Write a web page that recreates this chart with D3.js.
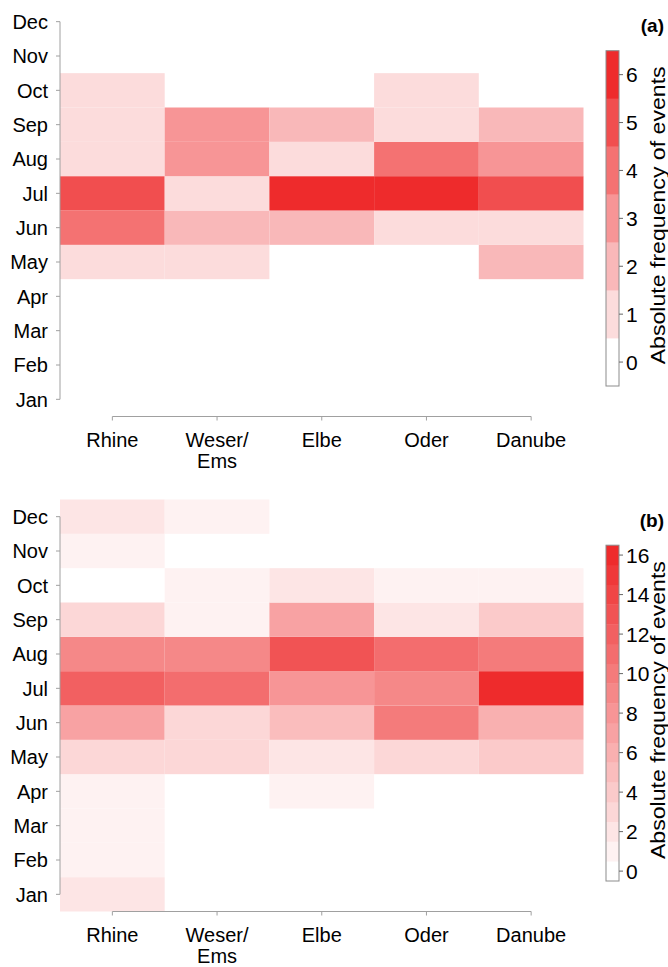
<!DOCTYPE html>
<html>
<head>
<meta charset="utf-8">
<script src="https://cdn.jsdelivr.net/npm/d3@7"></script>
<style>
  html, body { margin: 0; padding: 0; background: #fff; }
  svg { display: block; font-family: "Liberation Sans", Arial, Helvetica, sans-serif; }
</style>
</head>
<body>
<svg id="chart" width="668" height="967"></svg>
<script>
// Months (bottom to top on the y axis) and river basins
const months = ["Jan", "Feb", "Mar", "Apr", "May", "Jun", "Jul", "Aug", "Sep", "Oct", "Nov", "Dec"];
const rivers = ["Rhine", "Weser/Ems", "Elbe", "Oder", "Danube"];
const riverLabels = [["Rhine"], ["Weser/", "Ems"], ["Elbe"], ["Oder"], ["Danube"]];

// (a) event counts per month, Jan..Dec, one array per basin
const countsA_Rhine  = [0, 0, 0, 0, 1, 4, 5, 1, 1, 1, 0, 0];
const countsA_Weser  = [0, 0, 0, 0, 1, 2, 1, 3, 3, 0, 0, 0];
const countsA_Elbe   = [0, 0, 0, 0, 0, 2, 6, 1, 2, 0, 0, 0];
const countsA_Oder   = [0, 0, 0, 0, 0, 1, 6, 4, 1, 1, 0, 0];
const countsA_Danube = [0, 0, 0, 0, 2, 1, 5, 3, 2, 0, 0, 0];

// (b) event counts per month, Jan..Dec, one array per basin
const countsB_Rhine  = [2, 1, 1, 1, 3, 7, 12, 9, 3, 0, 1, 2];
const countsB_Weser  = [0, 0, 0, 0, 3, 3, 11, 9, 1, 1, 0, 1];
const countsB_Elbe   = [0, 0, 0, 1, 2, 5, 8, 13, 7, 2, 0, 0];
const countsB_Oder   = [0, 0, 0, 0, 3, 10, 9, 11, 2, 1, 0, 0];
const countsB_Danube = [0, 0, 0, 0, 4, 6, 16, 10, 4, 1, 0, 0];

// Colour-bar ranges and tick labels
const maxA = 6, maxB = 16;
const legendTicksA = [0, 1, 2, 3, 4, 5, 6];
const legendTicksB = [0, 2, 4, 6, 8, 10, 12, 14, 16];

const panelA = [countsA_Rhine, countsA_Weser, countsA_Elbe, countsA_Oder, countsA_Danube];
const panelB = [countsB_Rhine, countsB_Weser, countsB_Elbe, countsB_Oder, countsB_Danube];

const svg = d3.select("#chart");
const RED = "#ee2b2c";
const AXIS = "#a0a0a0";
const INK = "#000";

function drawPanel(offsetY, counts, maxVal, legendTicks, tag) {
  const g = svg.append("g").attr("transform", `translate(0,${offsetY})`);
  const top = 4.5, bottom = 416.5;

  const x = d3.scaleBand().domain(rivers).range([60, 583.5]).padding(0);
  const y = d3.scaleBand().domain(months).range([bottom, top]).padding(0);
  const color = d3.scaleLinear().domain([0, maxVal]).range(["#ffffff", RED]).interpolate(d3.interpolateRgb);

  // Cells
  const cells = [];
  rivers.forEach((r, i) => months.forEach((m, j) => cells.push({ r, m, v: counts[i][j] })));
  g.append("g").selectAll("rect").data(cells.filter(d => d.v > 0)).join("rect")
    .attr("x", d => x(d.r))
    .attr("y", d => y(d.m))
    .attr("width", x.bandwidth())
    .attr("height", y.bandwidth())
    .attr("fill", d => color(d.v));

  // Y axis: line between first and last tick, ticks pointing left
  const yc = m => y(m) + y.bandwidth() / 2;
  const ya = g.append("g");
  ya.append("line").attr("x1", 60).attr("x2", 60)
    .attr("y1", yc("Dec")).attr("y2", yc("Jan")).attr("stroke", AXIS);
  ya.selectAll("line.tick").data(months).join("line").attr("class", "tick")
    .attr("x1", 56).attr("x2", 60).attr("y1", yc).attr("y2", yc).attr("stroke", AXIS);
  ya.selectAll("text").data(months).join("text")
    .attr("x", 48).attr("y", yc).attr("dy", "0.36em")
    .attr("text-anchor", "end").attr("font-size", 20).attr("fill", INK)
    .text(d => d);

  // X axis: line between first and last tick, ticks pointing down
  const xc = r => x(r) + x.bandwidth() / 2;
  const xa = g.append("g");
  xa.append("line").attr("x1", xc(rivers[0])).attr("x2", xc(rivers[rivers.length - 1]))
    .attr("y1", bottom).attr("y2", bottom).attr("stroke", AXIS);
  xa.selectAll("line.tick").data(rivers).join("line").attr("class", "tick")
    .attr("x1", xc).attr("x2", xc).attr("y1", bottom).attr("y2", bottom + 4).attr("stroke", AXIS);
  const xl = xa.selectAll("text").data(rivers).join("text")
    .attr("x", xc).attr("y", bottom + 30)
    .attr("text-anchor", "middle").attr("font-size", 20).attr("fill", INK);
  xl.selectAll("tspan").data((d, i) => riverLabels[i]).join("tspan")
    .attr("x", function () { return d3.select(this.parentNode).attr("x"); })
    .attr("dy", (d, k) => k === 0 ? 0 : 21.5)
    .text(d => d);

  // Colour bar: one band per integer count
  const levels = d3.range(0, maxVal + 1);
  const barTop = maxVal === maxA ? 50.7 : 50.2;
  const barBottom = 386;
  const ly = d3.scaleBand().domain(levels).range([barBottom, barTop]).padding(0);
  const lg = g.append("g");
  lg.selectAll("rect").data(levels).join("rect")
    .attr("x", 606).attr("y", d => ly(d)).attr("width", 13).attr("height", ly.bandwidth() + 0.3)
    .attr("fill", d => color(d));
  lg.append("rect").attr("x", 606).attr("y", barTop).attr("width", 13).attr("height", barBottom - barTop)
    .attr("fill", "none").attr("stroke", "#8c8c8c").attr("stroke-width", 1);
  const lc = d => ly(d) + ly.bandwidth() / 2;
  lg.selectAll("line.tick").data(legendTicks).join("line").attr("class", "tick")
    .attr("x1", 619).attr("x2", 623).attr("y1", lc).attr("y2", lc).attr("stroke", "#666");
  lg.selectAll("text.tl").data(legendTicks).join("text").attr("class", "tl")
    .attr("x", 626).attr("y", lc).attr("dy", "0.36em")
    .attr("font-size", 21).attr("fill", INK).text(d => d);

  // Colour bar title
  const midY = (barTop + barBottom) / 2;
  lg.append("text")
    .attr("transform", `translate(665,${midY - 3}) rotate(-90)`)
    .attr("text-anchor", "middle").attr("font-size", 20).attr("fill", INK)
    .attr("textLength", 298).attr("lengthAdjust", "spacingAndGlyphs")
    .text("Absolute frequency of events");

  // Panel tag
  g.append("text").attr("x", 664).attr("y", 32).attr("text-anchor", "end")
    .attr("font-size", 19).attr("font-weight", "bold").attr("fill", INK).text(tag);
}

drawPanel(0, panelA, maxA, legendTicksA, "(a)");
drawPanel(495, panelB, maxB, legendTicksB, "(b)");
</script>
</body>
</html>
